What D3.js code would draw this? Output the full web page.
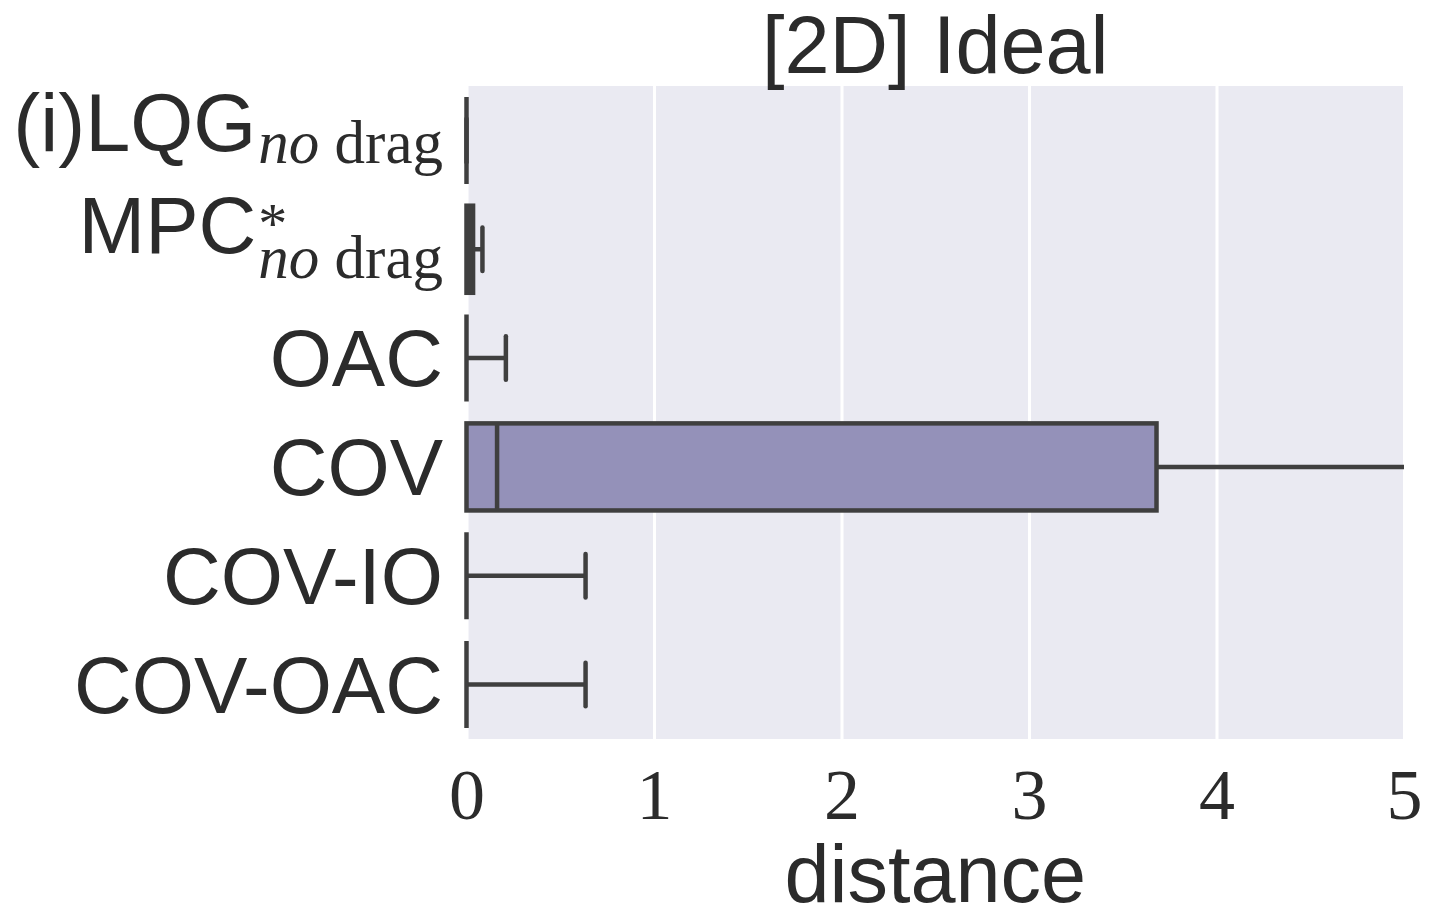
<!DOCTYPE html>
<html>
<head>
<meta charset="utf-8">
<script src="https://cdn.jsdelivr.net/npm/d3@7"></script>
<style>
    body { margin: 0; background: #fff; }
    svg { display: block; }
</style>
</head>
<body>
<div id="chart"></div>
<script>
// Box plot statistics, one entry per method (top to bottom)
var categories = ['LQG', 'MPC', 'OAC', 'COV', 'COV-IO', 'COV-OAC'];
var mainLabels = ['(i)LQG', 'MPC', 'OAC', 'COV', 'COV-IO', 'COV-OAC'];
var subLabels = ['drag', 'drag', null, null, null, null];
var supLabels = [null, '*', null, null, null, null];
var whiskerLow = [0, 0, 0, 0, 0, 0];
var q1 = [0, 0, 0, 0, 0, 0];
var median = [0, 0.02, 0, 0.163, 0, 0];
var q3 = [0, 0.035, 0, 3.68, 0, 0];
var whiskerHigh = [0, 0.085, 0.21, 5.6, 0.635, 0.635];
var xTicks = [0, 1, 2, 3, 4, 5];
var boxColors = ['#9491b9', '#3f3f3f', '#9491b9', '#9491b9', '#9491b9', '#9491b9'];

(function() {
    var W = 1439, H = 915,
        mLeft = 466.5, mRight = 1404, mTop = 86, mBottom = 739,
        ink = '#2b2b2b', edge = '#3f3f3f', lw = 4.5;

    var svg = d3.select('#chart').append('svg')
        .attr('width', W)
        .attr('height', H);

    var xScale = d3.scaleLinear().domain([0, 5]).range([mLeft, mRight]),
        yScale = d3.scaleBand().domain(categories).range([mTop, mBottom]).padding(0),
        boxH = yScale.bandwidth() * 0.8;

    svg.append('defs').append('clipPath')
        .attr('id', 'plotclip')
        .append('rect')
        .attr('x', mLeft - 4).attr('y', mTop)
        .attr('width', mRight - mLeft + 4).attr('height', mBottom - mTop);

    svg.append('rect')
        .attr('x', mLeft).attr('y', mTop)
        .attr('width', mRight - mLeft).attr('height', mBottom - mTop)
        .attr('fill', '#eaeaf2');

    // vertical grid
    var grid = svg.append('g')
        .attr('transform', 'translate(0,' + mBottom + ')')
        .call(d3.axisBottom(xScale).tickValues(xTicks).tickSize(-(mBottom - mTop)).tickFormat(''));
    grid.select('.domain').remove();
    grid.selectAll('line').attr('stroke', '#fff').attr('stroke-width', 3);

    // x tick labels
    var xx = svg.append('g')
        .attr('transform', 'translate(0,' + mBottom + ')')
        .call(d3.axisBottom(xScale).tickValues(xTicks).tickSize(0).tickPadding(0).tickFormat(d3.format('d')));
    xx.select('.domain').remove();
    xx.selectAll('text')
        .attr('y', 80)
        .attr('dy', null)
        .attr('fill', ink)
        .style('font-family', '"Liberation Serif", serif')
        .style('font-size', '72px');

    // boxes
    var data = categories.map(function(c, i) {
        return {cat: c, lo: whiskerLow[i], q1: q1[i], med: median[i], q3: q3[i], hi: whiskerHigh[i], color: boxColors[i]};
    });

    var boxes = svg.append('g')
        .attr('clip-path', 'url(#plotclip)')
        .selectAll('.box')
        .data(data)
        .enter()
        .append('g')
        .attr('class', 'box')
        .attr('transform', function(d) { return 'translate(0,' + (yScale(d.cat) + yScale.bandwidth() / 2) + ')'; });

    // whiskers
    boxes.append('line')
        .attr('x1', function(d) { return xScale(d.q3); })
        .attr('x2', function(d) { return xScale(d.hi); })
        .attr('stroke', edge).attr('stroke-width', lw);
    boxes.append('line')
        .attr('x1', function(d) { return xScale(d.lo); })
        .attr('x2', function(d) { return xScale(d.q1); })
        .attr('stroke', edge).attr('stroke-width', lw);

    // caps
    boxes.append('line')
        .attr('x1', function(d) { return xScale(d.hi); })
        .attr('x2', function(d) { return xScale(d.hi); })
        .attr('y1', -boxH / 4).attr('y2', boxH / 4)
        .attr('stroke', edge).attr('stroke-width', lw).attr('stroke-linecap', 'round');

    boxes.append('rect')
        .attr('x', function(d) { return xScale(d.q1); })
        .attr('y', -boxH / 2)
        .attr('width', function(d) { return xScale(d.q3) - xScale(d.q1); })
        .attr('height', boxH)
        .attr('fill', function(d) { return d.color; })
        .attr('stroke', edge).attr('stroke-width', lw);

    boxes.append('line')
        .attr('x1', function(d) { return xScale(d.med); })
        .attr('x2', function(d) { return xScale(d.med); })
        .attr('y1', -boxH / 2).attr('y2', boxH / 2)
        .attr('stroke', edge).attr('stroke-width', lw);

    // y labels
    var labelX = 443;
    var yy = svg.append('g')
        .selectAll('.ylabel')
        .data(categories)
        .enter()
        .append('g')
        .attr('class', 'ylabel')
        .attr('transform', function(d) { return 'translate(' + labelX + ',' + (yScale(d) + yScale.bandwidth() / 2) + ')'; });

    yy.each(function(d, i) {
        var g = d3.select(this), mainEnd = 0;
        if (subLabels[i]) {
            var sub = g.append('text')
                .attr('text-anchor', 'end')
                .attr('y', i === 0 ? 23 : 29)
                .attr('fill', ink)
                .style('font-family', '"Liberation Serif", serif')
                .style('font-size', '61px');
            sub.append('tspan').style('font-style', 'italic').text('no');
            sub.append('tspan').text(' ' + subLabels[i]);
            var w = sub.node().getComputedTextLength();
            mainEnd = -w - 2;
            if (supLabels[i]) {
                g.append('text')
                    .attr('x', -w)
                    .attr('y', -6)
                    .attr('fill', ink)
                    .style('font-family', '"Liberation Serif", serif')
                    .style('font-size', '58px')
                    .text(supLabels[i]);
            }
        }
        g.append('text')
            .attr('text-anchor', 'end')
            .attr('x', mainEnd)
            .attr('y', i === 0 ? 11 : (i === 1 ? 4 : 28))
            .attr('fill', ink)
            .style('font-family', '"Liberation Sans", Arial, sans-serif')
            .style('font-size', i === 0 ? '81px' : '80px')
            .text(mainLabels[i]);
    });

    // title and axis label
    svg.append('text')
        .attr('x', (mLeft + mRight) / 2)
        .attr('y', 73)
        .attr('text-anchor', 'middle')
        .attr('fill', ink)
        .style('font-family', '"Liberation Sans", Arial, sans-serif')
        .style('font-size', '81px')
        .text('[2D] Ideal');

    svg.append('text')
        .attr('x', (mLeft + mRight) / 2)
        .attr('y', 902)
        .attr('text-anchor', 'middle')
        .attr('fill', ink)
        .style('font-family', '"Liberation Sans", Arial, sans-serif')
        .style('font-size', '81px')
        .text('distance');
})();
</script>
</body>
</html>
